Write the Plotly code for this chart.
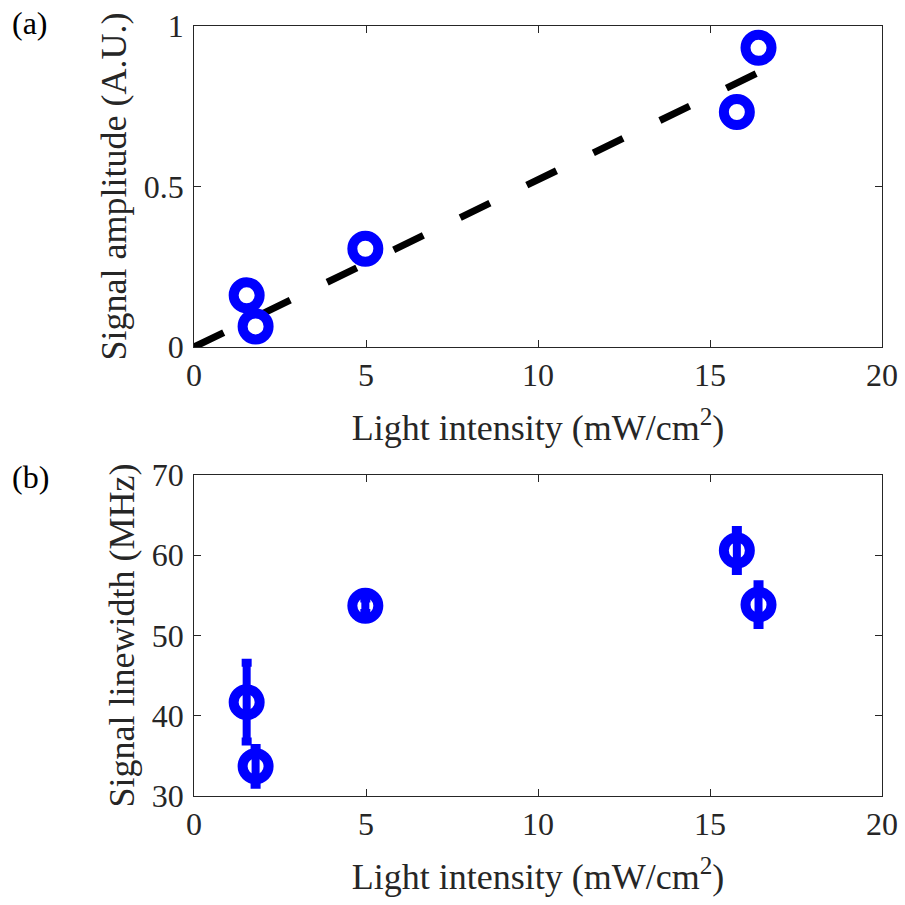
import plotly.graph_objects as go

# Panel (a): signal amplitude
intensity = [1.53, 1.79, 4.98, 15.78, 16.41]
amplitude = [0.161, 0.064, 0.306, 0.732, 0.932]
fit_x = [0.0, 16.41]
fit_y = [0.0, 0.855]

# Panel (b): signal linewidth
linewidth = [41.7, 33.7, 53.7, 60.6, 53.85]
linewidth_err = [4.9, 2.3, 0.9, 2.55, 2.55]

x_ticks = [0, 5, 10, 15, 20]
amp_ticks = [0, 0.5, 1]
amp_tick_labels = ["0", "0.5", "1"]
lw_ticks = [30, 40, 50, 60, 70]

BLUE = "rgb(0,0,255)"
AX = "#262626"
FONT = "Liberation Serif"

fig = go.Figure()

fig.add_trace(go.Scatter(
    x=fit_x, y=fit_y, mode="lines", xaxis="x", yaxis="y",
    line=dict(color="black", width=7, dash="33px,41px"), showlegend=False))
fig.add_trace(go.Scatter(
    x=intensity, y=amplitude, mode="markers", xaxis="x", yaxis="y",
    marker=dict(symbol="circle-open", size=26, color=BLUE,
                line=dict(color=BLUE, width=10)),
    showlegend=False, cliponaxis=False))
fig.add_trace(go.Scatter(
    x=intensity, y=linewidth, mode="markers", xaxis="x2", yaxis="y2",
    error_y=dict(type="data", array=linewidth_err, visible=True,
                 color=BLUE, thickness=8, width=5),
    marker=dict(symbol="circle-open", size=26, color=BLUE,
                line=dict(color=BLUE, width=10)),
    showlegend=False, cliponaxis=False))

axis_common = dict(
    showline=True, linecolor=AX, linewidth=1, mirror="ticks",
    ticks="inside", ticklen=7, tickcolor=AX, tickwidth=1,
    showgrid=False, zeroline=False, automargin=False,
    tickfont=dict(family=FONT, size=32, color=AX),
)
title_font = dict(family=FONT, size=36, color=AX)

fig.update_layout(
    width=905, height=905,
    margin=dict(l=0, r=0, t=0, b=0, autoexpand=False),
    paper_bgcolor="white", plot_bgcolor="white",
    xaxis=dict(domain=[0.2144, 0.9746], range=[0, 20], tickvals=x_ticks,
               anchor="y",
               title=dict(text="Light intensity (mW/cm<sup>2</sup>)",
                          font=title_font, standoff=22),
               **axis_common),
    yaxis=dict(domain=[0.6166, 0.9713], range=[0, 1], tickvals=amp_ticks,
               ticktext=amp_tick_labels, anchor="x", ticklabelstandoff=3,
               title=dict(text="Signal amplitude (A.U.)", font=title_font,
                          standoff=6),
               **axis_common),
    xaxis2=dict(domain=[0.2144, 0.9746], range=[0, 20], tickvals=x_ticks,
                anchor="y2",
                title=dict(text="Light intensity (mW/cm<sup>2</sup>)",
                           font=title_font, standoff=22),
                **axis_common),
    yaxis2=dict(domain=[0.1204, 0.4751], range=[30, 70], tickvals=lw_ticks,
                anchor="x2", ticklabelstandoff=3,
                title=dict(text="Signal linewidth (MHz)", font=title_font,
                           standoff=6),
                **axis_common),
    annotations=[
        dict(text="(a)", x=10, y=23, xref="paper", yref="paper",
             showarrow=False, font=dict(family=FONT, size=32, color="black"),
             xanchor="left", yanchor="middle"),
        dict(text="(b)", x=10, y=477, xref="paper", yref="paper",
             showarrow=False, font=dict(family=FONT, size=32, color="black"),
             xanchor="left", yanchor="middle"),
    ],
)

# convert annotation pixel positions to paper coords
for ann in fig.layout.annotations:
    ann.x = ann.x / 905
    ann.y = 1 - ann.y / 905

fig.write_html("out.html")
